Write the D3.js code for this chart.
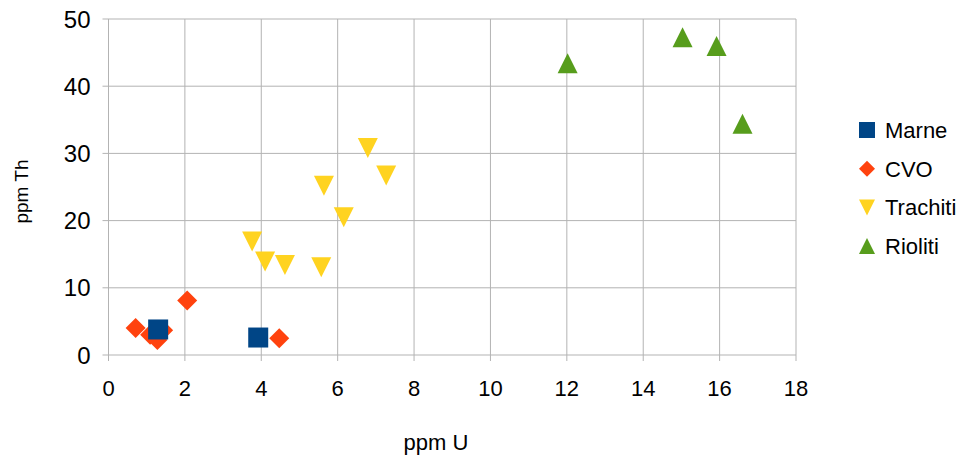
<!DOCTYPE html>
<html>
<head>
<meta charset="utf-8">
<script src="https://cdn.jsdelivr.net/npm/d3@7"></script>
<style>
  body { margin: 0; background: #fff; }
  text { font-family: "Liberation Sans", Arial, sans-serif; fill: #000; }
</style>
</head>
<body>
<div id="chart"></div>
<script>
// series names and [ppm U, ppm Th] pairs
const seriesNames = ["Marne", "CVO", "Trachiti", "Rioliti"];
const marne = [[1.30, 3.8], [3.92, 2.6]];
const cvo = [[0.71, 4.0], [1.09, 3.0], [1.28, 2.25], [1.43, 3.7], [2.06, 8.1], [4.47, 2.5]];
const trachiti = [[6.79, 30.8], [7.27, 26.7], [5.64, 25.2], [6.16, 20.5], [3.76, 16.9], [4.10, 13.9], [4.62, 13.4], [5.57, 13.05]];
const rioliti = [[12.02, 43.4], [15.03, 47.3], [15.92, 46.0], [16.60, 34.4]];
const xTicks = [0, 2, 4, 6, 8, 10, 12, 14, 16, 18];
const yTicks = [0, 10, 20, 30, 40, 50];

const width = 974;
const height = 456;
const marginLeft = 108.5;
const marginRight = 178;
const marginTop = 19;
const marginBottom = 101;

const colors = ["#004586", "#ff420e", "#ffd320", "#579d1c"];

const x = d3.scaleLinear().domain([0, 18]).range([marginLeft, width - marginRight]);
const y = d3.scaleLinear().domain([0, 50]).range([height - marginBottom, marginTop]);

const svg = d3.select("#chart").append("svg")
    .attr("width", width)
    .attr("height", height)
    .attr("viewBox", [0, 0, width, height]);

// grid + outer ticks
svg.append("g")
  .selectAll("line")
  .data(xTicks)
  .join("line")
    .attr("x1", d => x(d)).attr("x2", d => x(d))
    .attr("y1", y(50)).attr("y2", y(0) + 6)
    .attr("stroke", "#b3b3b3");

svg.append("g")
  .selectAll("line")
  .data(yTicks)
  .join("line")
    .attr("x1", x(0) - 6).attr("x2", x(18))
    .attr("y1", d => y(d)).attr("y2", d => y(d))
    .attr("stroke", "#b3b3b3");

// tick labels
svg.append("g")
  .selectAll("text")
  .data(xTicks)
  .join("text")
    .attr("x", d => x(d))
    .attr("y", y(0) + 41)
    .attr("text-anchor", "middle")
    .attr("font-size", 22)
    .text(d => d);

svg.append("g")
  .selectAll("text")
  .data(yTicks)
  .join("text")
    .attr("x", x(0) - 18)
    .attr("y", d => y(d) + 8.5)
    .attr("text-anchor", "end")
    .attr("font-size", 24)
    .text(d => d);

// axis titles
svg.append("text")
    .attr("x", 436)
    .attr("y", 450)
    .attr("text-anchor", "middle")
    .attr("font-size", 22)
    .text("ppm U");

svg.append("text")
    .attr("transform", "translate(28,191.5) rotate(-90)")
    .attr("text-anchor", "middle")
    .attr("font-size", 19)
    .text("ppm Th");

function markerPath(i, s) {
  // s = bounding box side in px
  const h = s / 2;
  if (i === 0) return `M${-h},${-h}H${h}V${h}H${-h}Z`;
  if (i === 1) return `M0,${-h}L${h},0L0,${h}L${-h},0Z`;
  if (i === 2) return `M${-h},${-h}H${h}L0,${h}Z`;
  return `M0,${-h}L${h},${h}H${-h}Z`;
}

const allSeries = [marne, cvo, trachiti, rioliti];
// CVO drawn first so the Marne squares sit over it
const drawOrder = [1, 0, 2, 3];
drawOrder.forEach(i => {
  svg.append("g")
    .selectAll("path")
    .data(allSeries[i])
    .join("path")
      .attr("transform", d => `translate(${x(d[0])},${y(d[1])})`)
      .attr("d", markerPath(i, 20))
      .attr("fill", colors[i]);
});

// legend
const legend = svg.append("g")
  .selectAll("g")
  .data(seriesNames)
  .join("g")
    .attr("transform", (d, i) => `translate(867,${130 + i * 38.7})`);

legend.append("path")
    .attr("d", (d, i) => markerPath(i, 16))
    .attr("fill", (d, i) => colors[i]);

legend.append("text")
    .attr("x", 18)
    .attr("y", 8)
    .attr("font-size", 22)
    .text(d => d);
</script>
</body>
</html>
